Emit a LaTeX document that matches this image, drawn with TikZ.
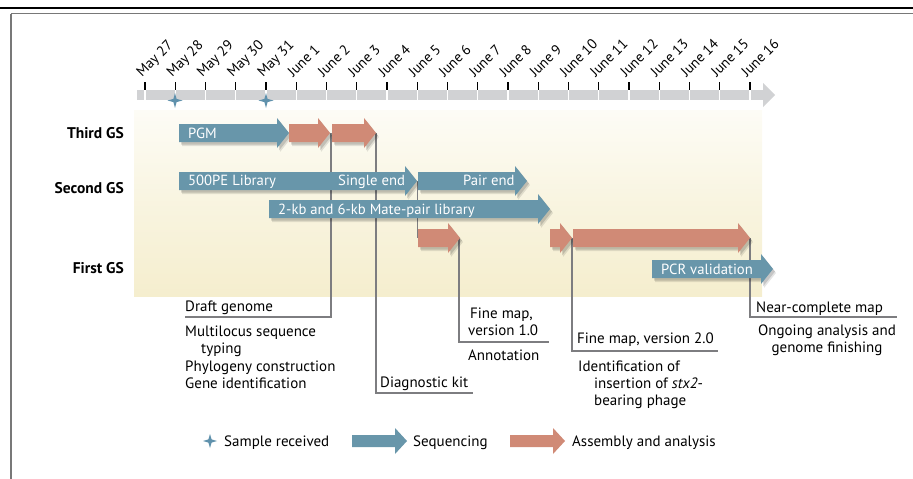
\documentclass[tikz,border=0pt]{standalone}
\usepackage{fontspec}
\setmainfont{PT Sans}
\definecolor{seqblue}{RGB}{104,150,170}
\definecolor{asmred}{RGB}{208,138,118}
\definecolor{bargray}{RGB}{209,210,212}
\definecolor{cream}{RGB}{245,238,206}
\definecolor{creamtop}{RGB}{253,252,246}
\definecolor{linegray}{RGB}{125,125,128}
\definecolor{framegray}{RGB}{120,120,120}
\definecolor{starblue}{RGB}{95,145,172}
\newcommand\arrowpath[6]{(#1,#3-#4) -- (#2-#6,#3-#4) -- (#2-#6,#3-#5) -- (#2,#3) -- (#2-#6,#3+#5) -- (#2-#6,#3+#4) -- (#1,#3+#4) -- cycle}
\newcommand\tlarrow[5]{%
  \fill[black,opacity=.10,shift={(3,4)}] \arrowpath{#2}{#3}{#4}{9}{15}{12};
  \fill[black,opacity=.14,shift={(2,2.5)}] \arrowpath{#2}{#3}{#4}{9}{15}{12};
  \fill[#1] \arrowpath{#2}{#3}{#4}{9}{15}{12};
  \coordinate (#5) at (#3,#4);
  \coordinate (#5s) at (#2,#4);}
\newcommand\starpath[3]{(#1,#2-#3) -- (#1+1.6,#2-1.6) -- (#1+#3,#2) -- (#1+1.6,#2+1.6) -- (#1,#2+#3) -- (#1-1.6,#2+1.6) -- (#1-#3,#2) -- (#1-1.6,#2-1.6) -- cycle}
\begin{document}
\begin{tikzpicture}[x=1pt,y=-1pt,
  every node/.style={inner sep=0pt,font=\fontsize{15}{17}\selectfont},
  rowlab/.style={anchor=base east,font=\fontsize{15.5}{17}\selectfont\bfseries},
  inlab/.style={anchor=base west,text=white,font=\fontsize{14.7}{17}\selectfont},
  note/.style={anchor=base west},
  datelab/.style={anchor=base west,rotate=45,font=\fontsize{14.3}{16}\selectfont},
  conn/.style={draw=linegray,line width=1.3pt}]
\useasboundingbox (0,0) rectangle (913,479);
% frame
\draw[black,line width=2pt] (0,7.5) -- (913,7.5);
\draw[framegray,line width=1.5pt] (11,13.5) -- (913,13.5);
\draw[framegray,line width=1.5pt] (11,13.5) -- (11,479);
% panel
\shade[top color=creamtop,bottom color=cream,middle color=cream!55!creamtop] (134,110) rectangle (762,296);
% timeline
\fill[bargray] (137,90) rectangle (763,100);
\fill[bargray] (763,83) -- (775,95) -- (763,107) -- cycle;
\foreach \lab [count=\i from 0] in {May 27,May 28,May 29,May 30,May 31,June 1,June 2,June 3,June 4,June 5,June 6,June 7,June 8,June 9,June 10,June 11,June 12,June 13,June 14,June 15,June 16}{
  \pgfmathsetmacro\xx{145+30.25*\i}
  \draw[black,line width=1.3pt] (\xx,82) -- (\xx,90);
  \draw[white,line width=1.2pt] (\xx,90) -- (\xx,100);
  \node[datelab] (d\i) at (\xx-3,78) {\lab};
}
% sample stars
\fill[starblue] \starpath{175}{100.5}{7.5};
\fill[starblue] \starpath{266}{100.5}{7.5};
% row labels
\node[rowlab] (third) at (124,138) {Third GS};
\node[rowlab] (second) at (124,193) {Second GS};
\node[rowlab] (first) at (124,273) {First GS};
% line end coordinates
\coordinate (dgL) at (185,317);
\coordinate (dkR) at (473,393);
\coordinate (fmaR) at (549,342);
\coordinate (fmbR) at (718,351);
\coordinate (ncR) at (897,317);
% connectors (behind arrows)
\coordinate (a1p) at (331,133);
\coordinate (a2p) at (376,133);
\draw[conn] (a1p) |- (dgL);
\draw[conn] (a2p) |- (dkR);
\draw[conn] (417.5,181) -- (417.5,238);
\draw[conn] (459,238) |- (fmaR);
\draw[conn] (572,238) |- (fmbR);
\draw[conn] (750,238) |- (ncR);
% arrows
\tlarrow{seqblue}{179}{289}{133}{pgm}
\tlarrow{asmred}{289}{330}{133}{a1}
\tlarrow{asmred}{332}{376}{133}{a2}
\tlarrow{seqblue}{179}{417}{181}{se}
\tlarrow{seqblue}{418}{527}{181}{pe}
\tlarrow{seqblue}{269}{550}{209}{mp}
\tlarrow{asmred}{418}{460}{238}{a3}
\tlarrow{asmred}{550}{572}{238}{a4}
\tlarrow{asmred}{573}{750}{238}{a5}
\tlarrow{seqblue}{652}{773}{269}{pcr}
% arrow labels
\node[inlab] (tpgm) at (188,138) {PGM};
\node[inlab] (tlib) at (188,185.5) {500PE Library};
\node[inlab] (tse) at (338,185.5) {Single end};
\node[inlab] (tpe) at (463,185.5) {Pair end};
\node[inlab] (tmp) at (278,214) {2-kb and 6-kb Mate-pair library};
\node[inlab] (tpcr) at (661,274) {PCR validation};
% notes
\node[note] (n1) at (185,311) {Draft genome};
\node[note] (n2) at (185,336) {Multilocus sequence};
\node[note] (n3) at (201,353.5) {typing};
\node[note] (n4) at (185,371) {Phylogeny construction};
\node[note] (n5) at (185,388.5) {Gene identification};
\node[note] (n6) at (380,387) {Diagnostic kit};
\node[note] (n7) at (470,318) {Fine map,};
\node[note] (n8) at (468,335.5) {version 1.0};
\node[note] (n9) at (468,360) {Annotation};
\node[note] (n10) at (577,343) {Fine map, version 2.0};
\node[note] (n11) at (578,371) {Identification of};
\node[note] (n12) at (594,388) {insertion of \textit{stx2}-};
\node[note] (n13) at (594,405) {bearing phage};
\node[note] (n14) at (756,312) {Near-complete map};
\node[anchor=base] (n15) at (827,335) {Ongoing analysis and};
\node[anchor=base] (n16) at (827,352.5) {genome finishing};
% legend
\fill[starblue] \starpath{210}{441}{7};
\node[note] (l1) at (224,446) {Sample received};
\fill[seqblue] \arrowpath{352}{407}{441}{6}{13}{12};
\node[note] (l2) at (413,446) {Sequencing};
\fill[asmred] \arrowpath{510}{565}{441}{6}{13}{12};
\node[note] (l3) at (572,446) {Assembly and analysis};
\end{tikzpicture}
\end{document}
